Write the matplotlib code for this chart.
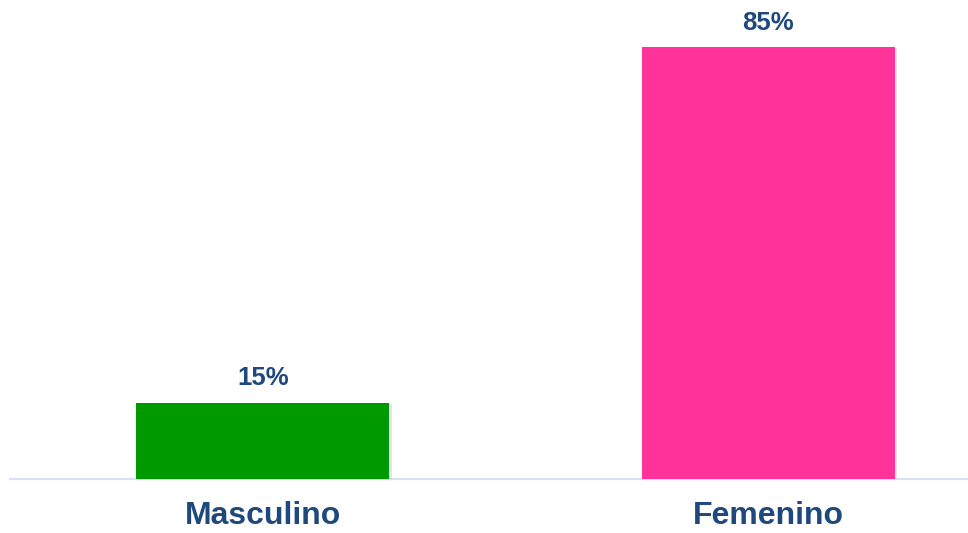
import matplotlib
matplotlib.use("Agg")
import matplotlib.pyplot as plt
import matplotlib.patheffects as pe

categories = ["Masculino", "Femenino"]
values = [15, 85]
value_labels = ["15%", "85%"]
colors = ["#009900", "#FF3399"]

text_color = "#1F497D"

fig = plt.figure(figsize=(9.68, 5.33), dpi=100)
W, H = 968, 533
ax = fig.add_axes([10 / W, (H - 479) / H, 958 / W, 479 / H])

x = list(range(len(categories)))
bars = ax.bar(x, values, width=0.5, color=colors, zorder=3)
for b in bars:
    b.set_path_effects([pe.SimplePatchShadow(offset=(2, -1), shadow_rgbFace="#999999", alpha=0.25), pe.Normal()])

ax.set_xlim(-0.5, 1.395)
ax.set_ylim(0, 94.25)

for xi, v, lab in zip(x, values, value_labels):
    ax.annotate(lab, (xi, v), xytext=(0, 17.5), textcoords="offset points",
                ha="center", va="center", fontsize=18.5, fontweight="bold",
                color=text_color, family=["Liberation Sans", "DejaVu Sans"])

ax.set_xticks(x)
ax.set_xticklabels(categories, fontsize=23, fontweight="bold", color=text_color,
                   family=["Liberation Sans", "DejaVu Sans"])
ax.tick_params(axis="x", length=0, pad=16)
ax.set_yticks([])

for s in ["top", "right", "left"]:
    ax.spines[s].set_visible(False)
ax.spines["bottom"].set_color("#D9E2F3")
ax.spines["bottom"].set_linewidth(1.5)

fig.savefig("out.png", dpi=100)
